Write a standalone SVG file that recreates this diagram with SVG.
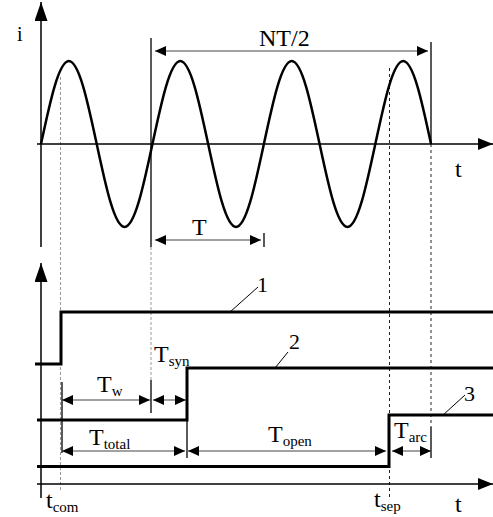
<svg xmlns="http://www.w3.org/2000/svg" width="493" height="517" viewBox="0 0 493 517">
<defs>
<marker id="ah" markerUnits="userSpaceOnUse" markerWidth="12" markerHeight="10" refX="11" refY="5" orient="auto-start-reverse">
<path d="M0,0 L11,5 L0,10 z" fill="#000"/>
</marker>
<marker id="axv" markerUnits="userSpaceOnUse" markerWidth="20" markerHeight="14" refX="19" refY="6.5" orient="auto">
<path d="M0,0 L19,6.5 L0,13 z" fill="#000"/>
</marker>
<marker id="axh" markerUnits="userSpaceOnUse" markerWidth="16" markerHeight="13" refX="15" refY="6" orient="auto">
<path d="M0,0 L15,6 L0,12 z" fill="#000"/>
</marker>
</defs>
<style>
.ax{stroke:#000;stroke-width:1.5;fill:none}
.sig{stroke:#000;stroke-width:3;fill:none}
.wave{stroke:#000;stroke-width:2.5;fill:none}
.dim{stroke:#444;stroke-width:1.2;marker-start:url(#ah);marker-end:url(#ah)}
.vl{stroke:#000;stroke-width:1.3}
.lead{stroke:#000;stroke-width:1}
.dl{stroke:#999;stroke-width:1;stroke-dasharray:3 2}
.dd{stroke:#222;stroke-width:1;stroke-dasharray:3 3}
text{font-family:"Liberation Serif","Times New Roman",serif;font-size:24px;fill:#000}
.sub{font-size:15px}
.num{font-size:22px}
</style>

<g id="guides">
<line class="dl" x1="60.5" y1="77" x2="60.5" y2="490"/>
<line class="dl" x1="151" y1="247" x2="151" y2="380"/>
<line class="dd" x1="389.5" y1="68" x2="389.5" y2="497"/>
<line class="dd" x1="431" y1="144" x2="431" y2="427"/>
</g>

<g id="top-axes">
<line class="ax" x1="41" y1="247" x2="41" y2="2" marker-end="url(#axv)"/>
<line class="ax" x1="37" y1="144" x2="493" y2="144" marker-end="url(#axh)"/>
<text x="17" y="41" style="font-size:20px">i</text>
<text x="455" y="177">t</text>
</g>

<g id="current-wave">
<path class="wave" d="M41,144
c9.08,-42.52 17.78,-83 27.86,-83 c10.08,0 18.78,40.48 27.86,83 c9.08,42.52 17.78,83 27.86,83 c10.08,0 18.78,-40.48 27.86,-83
c9.08,-42.52 17.78,-83 27.86,-83 c10.08,0 18.78,40.48 27.86,83 c9.08,42.52 17.78,83 27.86,83 c10.08,0 18.78,-40.48 27.86,-83
c9.08,-42.52 17.78,-83 27.86,-83 c10.08,0 18.78,40.48 27.86,83 c9.08,42.52 17.78,83 27.86,83 c10.08,0 18.78,-40.48 27.86,-83
c9.08,-42.52 17.78,-83 27.86,-83 c10.08,0 18.78,40.48 27.86,83"/>
</g>

<g id="top-dimensions">
<line class="vl" x1="151" y1="38" x2="151" y2="247"/>
<line class="vl" x1="431" y1="42" x2="431" y2="144"/>
<line class="vl" x1="264" y1="233" x2="264" y2="247"/>
<line class="dim" x1="155" y1="51" x2="428" y2="51"/>
<text x="259" y="46">NT/2</text>
<line class="dim" x1="155" y1="240" x2="261" y2="240"/>
<text x="192" y="235">T</text>
</g>

<g id="bottom-axes">
<line class="ax" x1="41" y1="498" x2="41" y2="263" marker-end="url(#axv)"/>
<line class="ax" x1="37" y1="484" x2="493" y2="484" marker-end="url(#axh)"/>
<text x="455" y="512">t</text>
<text x="46" y="508">t<tspan class="sub" dy="4">com</tspan></text>
<text x="374" y="507">t<tspan class="sub" dy="4">sep</tspan></text>
</g>

<g id="signal-1">
<polyline class="sig" points="35,364 61,364 61,312 493,312"/>
<line class="lead" x1="230" y1="312" x2="258" y2="287"/>
<text class="num" x="257" y="292">1</text>
</g>
<g id="signal-2">
<polyline class="sig" points="37,420 187,420 187,368 493,368"/>
<line class="lead" x1="275" y1="368" x2="288" y2="352"/>
<text class="num" x="289" y="349">2</text>
</g>
<g id="signal-3">
<polyline class="sig" points="37,466.5 389,466.5 389,415 493,415"/>
<line class="lead" x1="443" y1="415" x2="465" y2="395"/>
<text class="num" x="464" y="401">3</text>
</g>

<g id="bottom-dimensions">
<line class="vl" x1="62" y1="382" x2="62" y2="453"/>
<line class="vl" x1="151" y1="380" x2="151" y2="413"/>
<line class="vl" x1="187" y1="420" x2="187" y2="458"/>
<line class="vl" x1="431" y1="427" x2="431" y2="458"/>
<line class="dim" x1="62" y1="400" x2="150" y2="400"/>
<line class="dim" x1="153" y1="400" x2="186" y2="400"/>
<line class="dim" x1="62" y1="451" x2="185" y2="451"/>
<line class="dim" x1="188" y1="451" x2="386" y2="451"/>
<line class="dim" x1="392" y1="451" x2="431" y2="451"/>
<text x="97" y="392">T<tspan class="sub" dy="4">w</tspan></text>
<text x="154" y="362">T<tspan class="sub" dy="4">syn</tspan></text>
<text x="89" y="445">T<tspan class="sub" dy="4">total</tspan></text>
<text x="268" y="442">T<tspan class="sub" dy="4">open</tspan></text>
<text x="394" y="438">T<tspan class="sub" dy="4">arc</tspan></text>
</g>
</svg>
